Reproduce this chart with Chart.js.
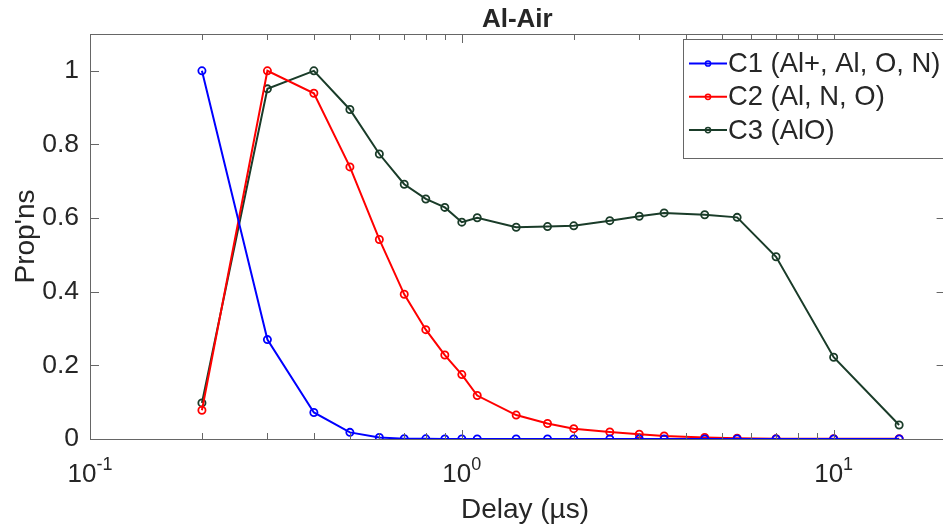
<!DOCTYPE html>
<html lang="en">
<head>
    <meta charset="UTF-8">
    <title>Al-Air</title>
    <style>
        html, body { margin: 0; padding: 0; background: #fff; overflow: hidden; }
        /* the plot box runs a little past the right edge of the window, like the original */
        .chart-wrap { width: 951px; height: 526px; }
    </style>
</head>
<body>
    <div class="chart-wrap">
        <canvas id="chart"></canvas>
    </div>

    <script src="https://cdn.jsdelivr.net/npm/chart.js"></script>
    <script>
        // Delay values (µs)
        const delays = [0.2, 0.3, 0.4, 0.5, 0.6, 0.7, 0.8, 0.9, 1.0, 1.1, 1.4, 1.7, 2.0, 2.5, 3.0, 3.5, 4.5, 5.5, 7.0, 10, 15];

        // proportions for each component
        const c1Values = [1.0, 0.27, 0.072, 0.018, 0.004, 0.001, 0.0005, 0, 0, 0, 0, 0, 0, 0, 0, 0, 0, 0, 0, 0, 0];
        const c2Values = [0.078, 1.0, 0.939, 0.739, 0.542, 0.393, 0.297, 0.228, 0.175, 0.118, 0.065, 0.042, 0.028, 0.019, 0.013, 0.008, 0.004, 0.002, 0.001, 0.001, 0.001];
        const c3Values = [0.098, 0.951, 1.0, 0.895, 0.774, 0.692, 0.652, 0.629, 0.589, 0.601, 0.575, 0.577, 0.579, 0.593, 0.605, 0.614, 0.609, 0.602, 0.495, 0.222, 0.038];

        const seriesLabels = ['C1 (Al+, Al, O, N)', 'C2 (Al, N, O)', 'C3 (AlO)'];
        const yTicks = [0, 0.2, 0.4, 0.6, 0.8, 1];
        const xMajorTicks = [0.1, 1, 10];
        const xExponents = ['-1', '0', '1'];

        const colors = ['#0000ff', '#ff0000', '#1a3c29'];
        const textColor = '#262626';
        const axisColor = '#666666';
        const fontName = '"Liberation Sans", Arial, Helvetica, sans-serif';

        function toPoints(values) {
            return delays.map((d, i) => ({ x: d, y: values[i] }));
        }

        function makeDataset(label, values, color) {
            return {
                label: label,
                data: toPoints(values),
                borderColor: color,
                backgroundColor: color,
                borderWidth: 2,
                tension: 0,
                pointRadius: 3.6,
                pointBorderWidth: 1.8,
                pointBackgroundColor: 'rgba(0,0,0,0)',
                pointBorderColor: color,
                pointHoverRadius: 3.6
            };
        }

        // box, inward ticks, tick labels with exponents, titles and legend
        const matlabLook = {
            id: 'matlabLook',
            afterDraw(chart) {
                const ctx = chart.ctx;
                const area = chart.chartArea;
                const xs = chart.scales.x;
                const ys = chart.scales.y;
                ctx.save();

                // box
                ctx.strokeStyle = axisColor;
                ctx.lineWidth = 1;
                ctx.strokeRect(area.left + 0.5, area.top + 0.5, area.right - area.left, area.bottom - area.top);

                // x ticks, top and bottom
                ctx.beginPath();
                for (let p = -1; p <= 1; p++) {
                    for (let k = 1; k <= 9; k++) {
                        const v = k * Math.pow(10, p);
                        if (v < 0.1 || v > 20) continue;
                        const px = Math.round(xs.getPixelForValue(v)) + 0.5;
                        const len = k === 1 ? 9 : 6;
                        ctx.moveTo(px, area.bottom);
                        ctx.lineTo(px, area.bottom - len);
                        ctx.moveTo(px, area.top);
                        ctx.lineTo(px, area.top + len);
                    }
                }
                // y ticks, left and right
                yTicks.forEach(v => {
                    const py = Math.round(ys.getPixelForValue(v)) + 0.5;
                    ctx.moveTo(area.left, py);
                    ctx.lineTo(area.left + 9, py);
                    ctx.moveTo(area.right, py);
                    ctx.lineTo(area.right - 9, py);
                });
                ctx.stroke();

                // x tick labels: 10 with superscript exponent
                ctx.fillStyle = textColor;
                ctx.textBaseline = 'alphabetic';
                ctx.textAlign = 'left';
                xMajorTicks.forEach((v, i) => {
                    const px = xs.getPixelForValue(v);
                    ctx.font = '26px ' + fontName;
                    const baseW = ctx.measureText('10').width;
                    ctx.font = '18px ' + fontName;
                    const expW = ctx.measureText(xExponents[i]).width;
                    const start = px - (baseW + expW) / 2;
                    ctx.font = '26px ' + fontName;
                    ctx.fillText('10', start, 482);
                    ctx.font = '18px ' + fontName;
                    ctx.fillText(xExponents[i], start + baseW, 470);
                });

                // title
                ctx.textAlign = 'center';
                ctx.font = 'bold 26px ' + fontName;
                ctx.fillText('Al-Air', (area.left + area.right) / 2 - 0.5, 27);

                // axis titles
                ctx.font = '28px ' + fontName;
                ctx.fillText('Delay (µs)', 525, 518);
                ctx.save();
                ctx.translate(34, (area.top + area.bottom) / 2);
                ctx.rotate(-Math.PI / 2);
                ctx.fillText("Prop'ns", 0, 0);
                ctx.restore();

                // legend
                const lx = 683, ly = 39, lw = 300, lh = 119;
                ctx.fillStyle = '#ffffff';
                ctx.fillRect(lx, ly, lw, lh);
                ctx.strokeStyle = axisColor;
                ctx.lineWidth = 1;
                ctx.strokeRect(lx + 0.5, ly + 0.5, lw, lh);
                ctx.textAlign = 'left';
                ctx.textBaseline = 'middle';
                ctx.font = '27.4px ' + fontName;
                chart.data.datasets.forEach((ds, i) => {
                    const cy = 63.5 + i * 33.3;
                    ctx.strokeStyle = ds.borderColor;
                    ctx.lineWidth = 2;
                    ctx.beginPath();
                    ctx.moveTo(689, cy);
                    ctx.lineTo(727, cy);
                    ctx.stroke();
                    ctx.lineWidth = 1.5;
                    ctx.beginPath();
                    ctx.arc(708, cy, 2.6, 0, Math.PI * 2);
                    ctx.stroke();
                    ctx.fillStyle = textColor;
                    ctx.fillText(ds.label, 728, cy + 1);
                });

                ctx.restore();
            }
        };

        const ctx = document.getElementById('chart').getContext('2d');
        new Chart(ctx, {
            type: 'line',
            data: {
                datasets: [
                    makeDataset(seriesLabels[0], c1Values, colors[0]),
                    makeDataset(seriesLabels[1], c2Values, colors[1]),
                    makeDataset(seriesLabels[2], c3Values, colors[2])
                ]
            },
            options: {
                responsive: true,
                maintainAspectRatio: false,
                animation: false,
                layout: { padding: { top: 34, right: 0, left: 0, bottom: 0 } },
                plugins: {
                    legend: { display: false },
                    title: { display: false },
                    tooltip: { enabled: false }
                },
                scales: {
                    x: {
                        type: 'logarithmic',
                        min: 0.1,
                        max: 20,
                        grid: { display: false, drawTicks: false },
                        border: { display: false },
                        ticks: { display: false },
                        afterFit: scale => { scale.height = 87; }
                    },
                    y: {
                        min: 0,
                        max: 1.1,
                        grid: { display: false, drawTicks: false },
                        border: { display: false },
                        afterBuildTicks: scale => {
                            scale.ticks = yTicks.map(v => ({ value: v }));
                        },
                        ticks: {
                            padding: 11,
                            color: textColor,
                            font: { family: fontName, size: 26.5 },
                            callback: v => String(+Number(v).toFixed(1))
                        },
                        afterFit: scale => { scale.width = 90; }
                    }
                }
            },
            plugins: [matlabLook]
        });
    </script>
</body>
</html>
